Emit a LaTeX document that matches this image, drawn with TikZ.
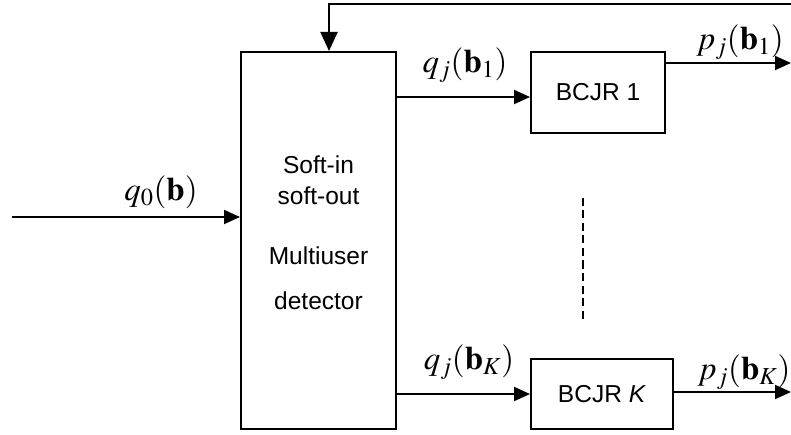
\documentclass[tikz,border=0pt]{standalone}
\usepackage{mathptmx}
\usepackage[no-math]{fontspec}
\setmainfont{Liberation Sans}
\usetikzlibrary{arrows.meta}
\begin{document}
\begin{tikzpicture}[x=1pt, y=-1pt, line width=2pt,
  blk/.style={draw, line width=2pt, inner sep=0pt},
  arr/.style={-{Triangle[length=16pt, width=14pt]}},
  bigarr/.style={-{Triangle[length=19pt, width=17pt]}},
  lbl/.style={font=\fontsize{33}{37}\selectfont, inner sep=0pt},
  txt/.style={font=\fontsize{24.5}{28}\selectfont, inner sep=0pt}]
\useasboundingbox (0,0) rectangle (791,435);

% blocks
\node[blk, minimum width=155pt, minimum height=377pt] (mud) at (318.5,240.5) {};
\node[blk, minimum width=134pt, minimum height=81pt, txt] (b1) at (598,92.5) {BCJR 1};
\node[blk, minimum width=142pt, minimum height=70pt, txt] (bK) at (602,394) {BCJR \textit{K}};

% detector caption
\node[txt] (t1) at (318.5,165) {Soft-in};
\node[txt] (t2) at (318.5,196) {soft-out};
\node[txt] (t3) at (318.5,256) {Multiuser};
\node[txt] (t4) at (318.5,301) {detector};

% free ends
\coordinate (in) at (12,217);
\coordinate (fbR) at (791,4);
\coordinate (fbC) at (329,4);
\coordinate (o1) at (791,63);
\coordinate (oK) at (791,392);
\coordinate (q1) at (0,97);
\coordinate (dA) at (583,198);
\coordinate (dB) at (583,320);

% connectors
\draw[arr] (in) -- (in -| mud.west);
\draw[bigarr] (fbR) -- (fbC) -- (fbC |- mud.north);
\draw[arr] (mud.east |- q1) -- (b1.west |- q1);
\draw[arr] (mud.east |- bK.west) -- (bK.west);
\draw[arr] (b1.east |- o1) -- (o1);
\draw[arr] (bK.east |- oK) -- (oK);
\draw[line width=2.5pt, dash pattern=on 8pt off 4.5pt] (dA) -- (dB);

% signal labels
\node[lbl] (l0) at (161,192) {$q_0(\mathbf{b})$};
\node[lbl] (l1) at (465,65) {$q_j(\mathbf{b}_1)$};
\node[lbl] (l2) at (740,42) {$p_j(\mathbf{b}_1)$};
\node[lbl] (l3) at (469,362) {$q_j(\mathbf{b}_K)$};
\node[lbl] (l4) at (744,372) {$p_j(\mathbf{b}_K)$};
\end{tikzpicture}
\end{document}
